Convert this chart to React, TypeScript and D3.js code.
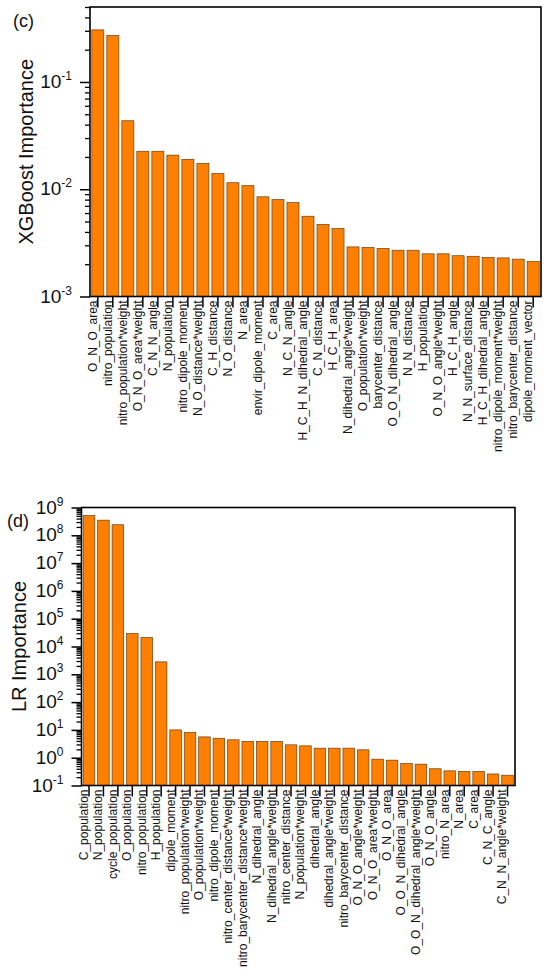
import { useEffect, useRef } from "react";
import * as d3 from "d3";

const xgbFeatures = [
  "O_N_O_area",
  "nitro_population",
  "nitro_population*weight",
  "O_N_O_area*weight",
  "C_N_N_angle",
  "N_population",
  "nitro_dipole_moment",
  "N_O_distance*weight",
  "C_H_distance",
  "N_O_distance",
  "N_area",
  "envir_dipole_moment",
  "C_area",
  "N_C_N_angle",
  "H_C_H_N_dihedral_angle",
  "C_N_distance",
  "H_C_H_area",
  "N_dihedral_angle*weight",
  "O_population*weight",
  "barycenter_distance",
  "O_O_N_dihedral_angle",
  "N_N_distance",
  "H_population",
  "O_N_O_angle*weight",
  "H_C_H_angle",
  "N_N_surface_distance",
  "H_C_H_dihedral_angle",
  "nitro_dipole_moment*weight",
  "nitro_barycenter_distance",
  "dipole_moment_vector",
];
const xgbValues = [
  0.306, 0.271, 0.0435, 0.0226, 0.0226, 0.0208, 0.019, 0.0174, 0.014, 0.0115,
  0.0108, 0.0085, 0.008, 0.0075, 0.0056, 0.0047, 0.0043, 0.0029, 0.00286,
  0.00281, 0.0027, 0.0027, 0.0025, 0.0025, 0.0024, 0.00237, 0.00231, 0.00229,
  0.00223, 0.00212,
];
const xgbDecades = [-3, -2, -1];

const lrFeatures = [
  "C_population",
  "N_population",
  "cycle_population",
  "O_population",
  "nitro_population",
  "H_population",
  "dipole_moment",
  "nitro_population*weight",
  "O_population*weight",
  "nitro_dipole_moment",
  "nitro_center_distance*weight",
  "nitro_barycenter_distance*weight",
  "N_dihedral_angle",
  "N_dihedral_angle*weight",
  "nitro_center_distance",
  "N_population*weight",
  "dihedral_angle",
  "dihedral_angle*weight",
  "nitro_barycenter_distance",
  "O_N_O_angle*weight",
  "O_N_O_area*weight",
  "O_N_O_area",
  "O_O_N_dihedral_angle",
  "O_O_N_dihedral_angle*weight",
  "O_N_O_angle",
  "nitro_N_area",
  "N_area",
  "C_area",
  "C_N_C_angle",
  "C_N_N_angle*weight",
];
const lrValues = [
  5.1e8, 3.5e8, 2.4e8, 2.9e4, 2.1e4, 2.8e3, 10, 8.1, 5.6, 5.0, 4.4, 3.85, 3.85,
  3.85, 2.9, 2.67, 2.2, 2.2, 2.2, 1.92, 0.885, 0.815, 0.62, 0.585, 0.4, 0.337,
  0.32, 0.32, 0.26, 0.234,
];
const lrDecades = [-1, 0, 1, 2, 3, 4, 5, 6, 7, 8, 9];

const font = "'Liberation Sans', Arial, sans-serif";
const ink = "#111";

function drawPanel(svg, o) {
  const g = svg.append("g");

  const x = d3
    .scaleBand()
    .domain(o.features)
    .range([o.left, o.right])
    .paddingInner(0.2)
    .paddingOuter(0.12);

  const y = d3.scaleLog().domain(o.domain).range([o.bottom, o.top]);

  // bars
  g.selectAll("rect.bar")
    .data(o.values)
    .enter()
    .append("rect")
    .attr("class", "bar")
    .attr("x", (d, i) => x(o.features[i]))
    .attr("y", (d) => y(d))
    .attr("width", x.bandwidth())
    .attr("height", (d) => o.bottom - y(d))
    .attr("fill", "#ff8000")
    .attr("stroke", "#6b3f12")
    .attr("stroke-width", 0.7);

  // minor ticks
  const minor = [];
  o.decades.forEach((e) => {
    for (let k = 2; k <= 9; k++) {
      const v = k * Math.pow(10, e);
      if (v <= o.domain[1]) minor.push(v);
    }
  });
  g.append("g")
    .attr("transform", `translate(${o.left},0)`)
    .call(d3.axisLeft(y).tickValues(minor).tickSize(5).tickFormat(() => ""))
    .call((a) => a.select(".domain").remove())
    .call((a) => a.selectAll(".tick line").attr("stroke", "#000").attr("stroke-width", 1.3));

  // major ticks
  const major = o.decades.map((e) => Math.pow(10, e));
  g.append("g")
    .attr("transform", `translate(${o.left},0)`)
    .call(d3.axisLeft(y).tickValues(major).tickSize(10).tickFormat(() => ""))
    .call((a) => a.select(".domain").remove())
    .call((a) => a.selectAll(".tick line").attr("stroke", "#000").attr("stroke-width", 1.5));

  // y tick labels with superscript
  o.decades.forEach((e) => {
    const t = g
      .append("text")
      .attr("x", o.left - 18)
      .attr("y", y(Math.pow(10, e)) + 6)
      .attr("text-anchor", "end")
      .attr("font-family", font)
      .attr("font-size", 19)
      .attr("fill", ink);
    t.append("tspan").text("10");
    t.append("tspan")
      .attr("dy", -8)
      .attr("font-size", 12)
      .text(e < 0 ? "-" + Math.abs(e) : String(e));
  });

  // x ticks and labels
  g.append("g")
    .attr("transform", `translate(0,${o.bottom})`)
    .call(d3.axisBottom(x).tickSize(11).tickFormat(() => ""))
    .call((a) => a.select(".domain").remove())
    .call((a) => a.selectAll(".tick line").attr("stroke", "#000").attr("stroke-width", 1.5));

  g.selectAll("text.xl")
    .data(o.features)
    .enter()
    .append("text")
    .attr("class", "xl")
    .attr(
      "transform",
      (d) => `translate(${x(d) + x.bandwidth() / 2 - 1},${o.bottom + 4}) rotate(-90)`
    )
    .attr("text-anchor", "end")
    .attr("font-family", font)
    .attr("font-size", 12)
    .attr("fill", ink)
    .text((d) => d);

  // frame
  g.append("rect")
    .attr("x", o.left)
    .attr("y", o.top)
    .attr("width", o.right - o.left)
    .attr("height", o.bottom - o.top)
    .attr("fill", "none")
    .attr("stroke", "#000")
    .attr("stroke-width", 1.6);

  // axis title
  g.append("text")
    .attr("transform", `translate(${o.titleX},${(o.top + o.bottom) / 2}) rotate(-90)`)
    .attr("text-anchor", "middle")
    .attr("font-family", font)
    .attr("font-size", 20)
    .attr("fill", ink)
    .text(o.title);

  // panel tag
  g.append("text")
    .attr("x", o.tagX)
    .attr("y", o.tagY)
    .attr("font-family", font)
    .attr("font-size", 18)
    .attr("fill", ink)
    .text(o.tag);
}

export default function App() {
  const ref = useRef();

  useEffect(() => {
    ref.current.innerHTML = "";
    const svg = d3.select(ref.current);

    drawPanel(svg, {
      features: xgbFeatures,
      values: xgbValues,
      decades: xgbDecades,
      domain: [1e-3, 0.5],
      left: 90,
      right: 541,
      top: 7,
      bottom: 296.5,
      title: "XGBoost Importance",
      titleX: 33,
      tag: "(c)",
      tagX: 13,
      tagY: 27,
    });

    drawPanel(svg, {
      features: lrFeatures,
      values: lrValues,
      decades: lrDecades,
      domain: [1e-1, 1e9],
      left: 81.5,
      right: 515,
      top: 507.5,
      bottom: 785.5,
      title: "LR Importance",
      titleX: 26,
      tag: "(d)",
      tagX: 7,
      tagY: 527,
    });
  }, []);

  return (
    <svg
      ref={ref}
      width={550}
      height={980}
      style={{ position: "absolute", left: 0, top: 0, background: "#fff" }}
    />
  );
}
